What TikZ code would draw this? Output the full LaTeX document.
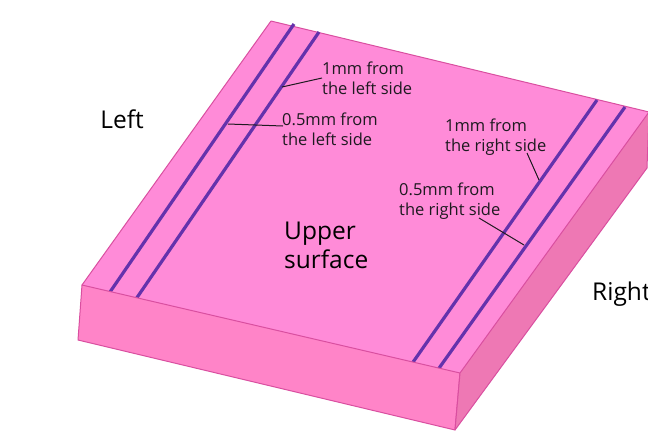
\documentclass[tikz,border=0pt]{standalone}
\usepackage{fontspec}
\setmainfont{Open Sans}
\definecolor{topface}{HTML}{FF8BD8}
\definecolor{frontface}{HTML}{FF84C8}
\definecolor{sideface}{HTML}{EE78B4}
\definecolor{edgecol}{HTML}{D94FA0}
\definecolor{stripe}{HTML}{6432AC}
\definecolor{inkcol}{HTML}{1E1A20}
\tikzset{
  face/.style={draw=edgecol,line width=1pt,line join=round},
  stripeline/.style={draw=stripe,line width=3.2pt},
  leader/.style={draw=inkcol,line width=1pt},
  small/.style={anchor=north west,align=left,inner sep=0pt,text=inkcol,font=\fontsize{16.5}{20}\selectfont},
  big/.style={align=left,inner sep=0pt,text=black,font=\fontsize{24.5}{29}\selectfont}
}
\begin{document}
\begin{tikzpicture}[x=1pt,y=-1pt]
\useasboundingbox (0,0) rectangle (648,440);
\clip (0,0) rectangle (648,440);
% block faces
\coordinate (tl) at (271,21);
\coordinate (tr) at (649,112);
\coordinate (tf) at (460,373);
\coordinate (tb) at (82,285);
\coordinate (bb) at (78,340);
\coordinate (bf) at (455,430);
\coordinate (br) at (647,168);
\fill[topface] (tl) -- (tr) -- (tf) -- (tb) -- cycle;
\draw[draw=edgecol,line width=1pt,line join=round] (tl) -- (tr) (tb) -- (tl);
% stripes
\coordinate (l1a) at (294,24); \coordinate (l1b) at (110,292);
\coordinate (l2a) at (319,32); \coordinate (l2b) at (136,299);
\coordinate (r1a) at (597,100); \coordinate (r1b) at (411,365);
\coordinate (r2a) at (625,107); \coordinate (r2b) at (437,371);
\draw[stripeline] (l1a) -- (l1b);
\draw[stripeline] (l2a) -- (l2b);
\draw[stripeline] (r1a) -- (r1b);
\draw[stripeline] (r2a) -- (r2b);
\path[face,fill=frontface] (tb) -- (tf) -- (bf) -- (bb) -- cycle;
\path[face,fill=sideface] (tf) -- (tr) -- (br) -- (bf) -- cycle;
% labels
\node[big] (left) at (122,119) {Left};
\node[big,anchor=west] (upper) at (284,245) {Upper\\surface};
\node[big,anchor=west] (right) at (592,294) {Right};
\node[small] (la) at (322,62) {1mm from\\the left side};
\node[small] (lb) at (282,113) {0.5mm from\\the left side};
\node[small] (ra) at (445,119) {1mm from\\the right side};
\node[small] (rb) at (399,183) {0.5mm from\\the right side};
% leaders
\coordinate (laS) at (322,78); \coordinate (laE) at (282,87);
\coordinate (lbS) at (283,126); \coordinate (lbE) at (228,124);
\coordinate (raS) at (527,153); \coordinate (raE) at (539,180);
\coordinate (rbS) at (479,218); \coordinate (rbE) at (524,245);
\draw[leader] (laS) -- (laE);
\draw[leader] (lbS) -- (lbE);
\draw[leader] (raS) -- (raE);
\draw[leader] (rbS) -- (rbE);
\end{tikzpicture}
\end{document}
